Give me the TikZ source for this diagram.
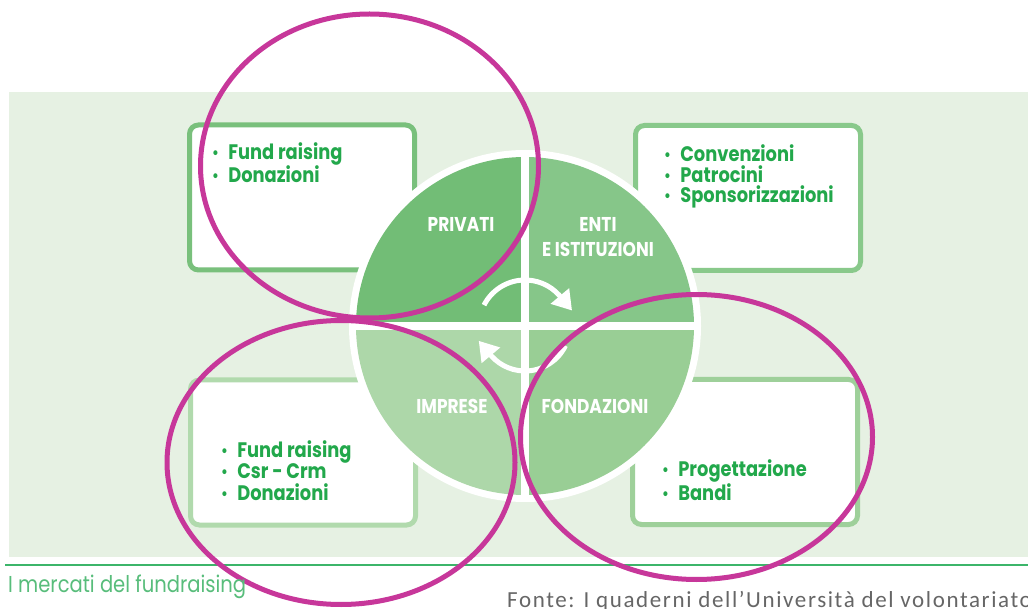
\documentclass[tikz,border=0pt]{standalone}
\usepackage{fontspec}
\usepackage{graphicx}
\setmainfont{Poppins}
\newfontfamily\gothic{Poppins}
\newfontfamily\sourcefont{Carlito}[LetterSpace=7]
\usetikzlibrary{arrows.meta,calc}

\definecolor{panelbg}{HTML}{E6F1E3}
\definecolor{quadA}{HTML}{72BD76}
\definecolor{quadB}{HTML}{86C689}
\definecolor{quadC}{HTML}{ADD7A9}
\definecolor{quadD}{HTML}{99CE95}
\definecolor{frameA}{HTML}{79C07C}
\definecolor{frameB}{HTML}{89C98B}
\definecolor{frameC}{HTML}{B1DAAD}
\definecolor{frameD}{HTML}{9ED09A}
\definecolor{listgreen}{HTML}{22A84B}
\definecolor{ringmagenta}{HTML}{C7379A}
\definecolor{footgreen}{HTML}{3CB56A}
\definecolor{captiongreen}{HTML}{58BD7B}
\definecolor{sourcegray}{HTML}{666666}

% horizontally condensed text, as in the original typesetting
\newcommand{\sq}[1]{\scalebox{0.85}[1]{#1}}
% one bullet item of a list
\newcommand{\itm}[1]{\sq{\makebox[19pt][l]{\fontsize{16}{16}\selectfont\raisebox{1pt}{•}}#1}}

\begin{document}
\begin{tikzpicture}[x=1pt,y=-1pt,
  listbox/.style={draw=#1, line width=5pt, fill=white, rounded corners=9pt,
    inner sep=0pt, minimum width=225pt, minimum height=145pt},
  listtext/.style={anchor=base west, align=left, text=listgreen, inner sep=0pt,
    font=\gothic\bfseries\fontsize{21}{21}\selectfont},
  sector/.style={text=white, inner sep=0pt, align=center,
    font=\gothic\bfseries\fontsize{20}{25.5}\selectfont},
  turnarrow/.style={draw=white, line width=5pt,
    -{Triangle[length=19pt,width=23pt]}},
  highlight/.style={draw=ringmagenta, line width=5pt}
]
\useasboundingbox (0,0) rectangle (1028,609);
\fill[white] (0,0) rectangle (1028,609);

% background panel and footer rule
\fill[panelbg] (9,92) rectangle (1028,557);
\draw[footgreen, line width=2pt] (5,565) -- (1028,565);

% the four lists (anchored at the baseline of their last line)
\node[listbox=frameA] (boxTL) at (302,197.5) {};
\node[listbox=frameB] (boxTR) at (748,198) {};
\node[listbox=frameC] (boxBL) at (303,452.5) {};
\node[listbox=frameD] (boxBR) at (745,452) {};

\node[listtext] (listTL) at (212,183)
  {\itm{Fund raising}\\\itm{Donazioni}};
\node[listtext, font=\gothic\bfseries\fontsize{21}{20.5}\selectfont] (listTR) at (664,203)
  {\itm{Convenzioni}\\\itm{Patrocini}\\\itm{Sponsorizzazioni}};
\node[listtext, font=\gothic\bfseries\fontsize{21}{21.5}\selectfont] (listBL) at (221,500)
  {\itm{Fund raising}\\\itm{Csr - Crm}\\\itm{Donazioni}};
\node[listtext, font=\gothic\bfseries\fontsize{21}{22}\selectfont] (listBR) at (662,500)
  {\itm{Progettazione}\\\itm{Bandi}};

% central wheel with four sectors
\node[circle, fill=white, inner sep=0pt, minimum size=352pt] (wheel) at (525,326) {};
\begin{scope}
  \clip (wheel.center) circle (169);
  \fill[quadA] (wheel.center) rectangle ++(-200,-200);
  \fill[quadB] (wheel.center) rectangle ++(200,-200);
  \fill[quadC] (wheel.center) rectangle ++(-200,200);
  \fill[quadD] (wheel.center) rectangle ++(200,200);
\end{scope}
\draw[white, line width=8pt] ($(wheel.center)+(0,-172)$) -- ($(wheel.center)+(0,172)$);
\draw[white, line width=8pt] ($(wheel.center)+(-172,0)$) -- ($(wheel.center)+(172,0)$);

% circular arrows in the middle
\draw[turnarrow] ($(wheel.center)+(-153:46)$) arc[start angle=-153, end angle=-42, radius=46] -- ++(50:20);
\draw[turnarrow] ($(wheel.center)+(26:45)$) arc[start angle=26, end angle=138, radius=45] -- ++(-130:20);

% sector names
\node[sector] (privati) at (461,224) {\sq{PRIVATI}};
\node[sector] (enti) at (598,237) {\sq{ENTI}\\\sq{E ISTITUZIONI}};
\node[sector] (imprese) at (452,406) {\sq{IMPRESE}};
\node[sector] (fondazioni) at (595,406) {\sq{FONDAZIONI}};

% highlight rings
\draw[highlight] (369.5,166) ellipse [x radius=169, y radius=152];
\draw[highlight] (341,462.5) ellipse [x radius=174, y radius=142];
\draw[highlight] (696.5,437) ellipse [x radius=176, y radius=142.5];

% captions
\node[anchor=base west, inner sep=0pt, text=captiongreen,
  font=\gothic\fontsize{23}{23}\selectfont] (caption) at (8,592)
  {\sq{I mercati del fundraising}};
\node[anchor=base west, inner sep=0pt, text=sourcegray,
  font=\sourcefont\fontsize{23}{23}\selectfont] (source) at (507,607)
  {Fonte: I quaderni dell’Università del volontariato};
\end{tikzpicture}
\end{document}
